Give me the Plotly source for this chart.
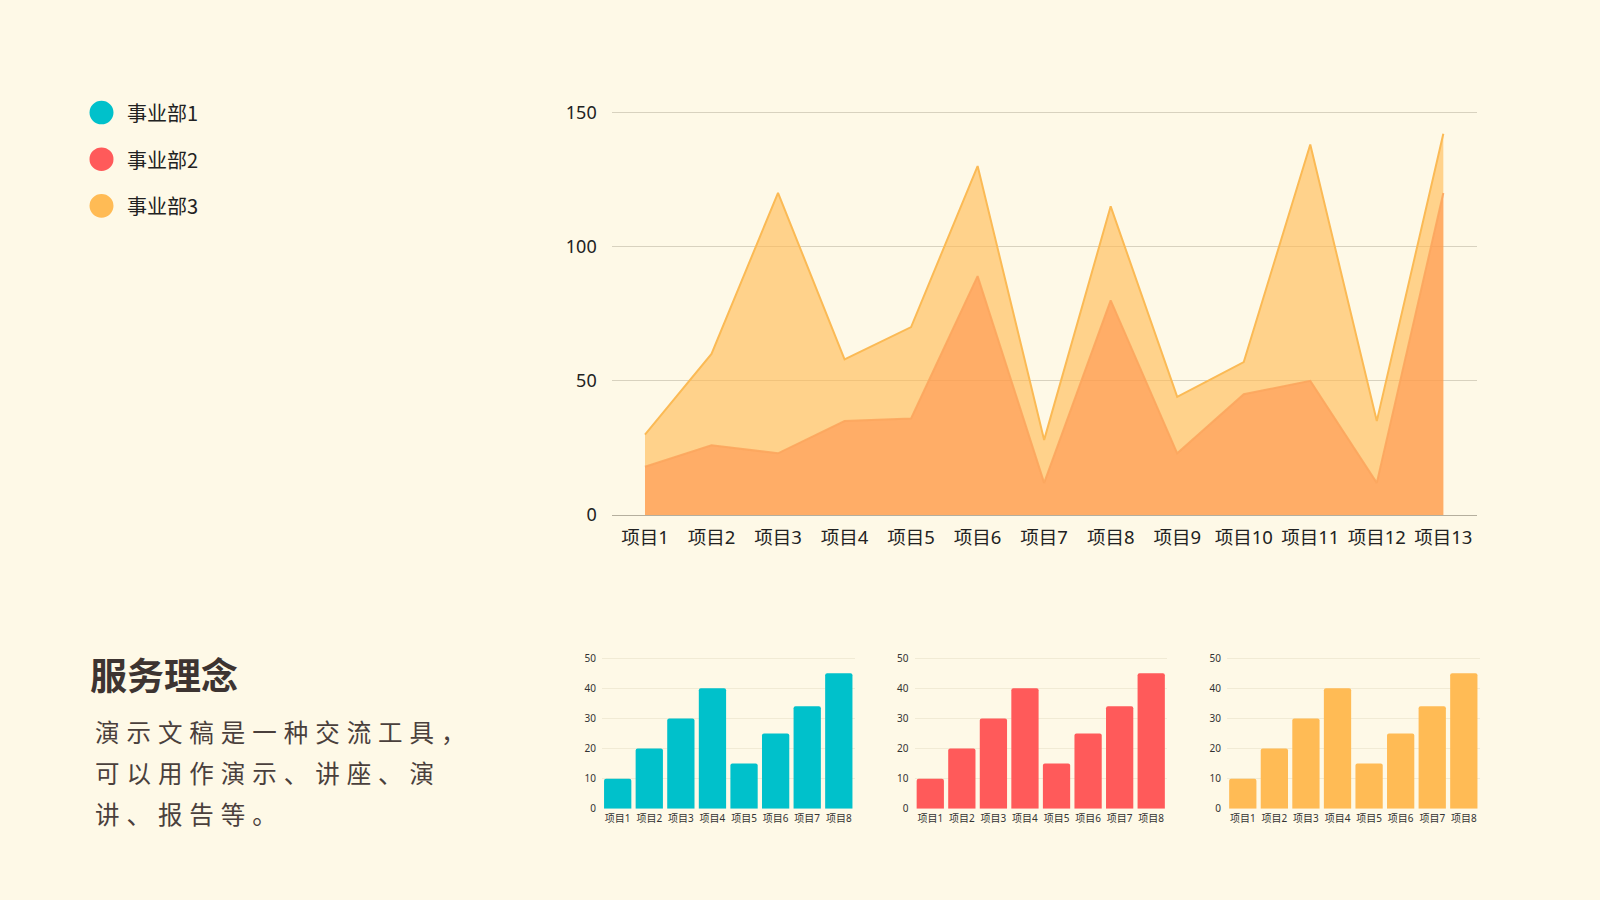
import plotly.graph_objects as go

# ---------------- data ----------------
main_categories = ["项目1", "项目2", "项目3", "项目4", "项目5", "项目6", "项目7",
                   "项目8", "项目9", "项目10", "项目11", "项目12", "项目13"]
dept3_values = [30, 60, 120, 58, 70, 130, 28, 115, 44, 57, 138, 35, 142]
dept2_values = [18, 26, 23, 35, 36, 89, 12, 80, 23, 45, 50, 12, 120]

bar_categories = ["项目1", "项目2", "项目3", "项目4", "项目5", "项目6", "项目7", "项目8"]
bar_values = [10, 20, 30, 40, 15, 25, 34, 45]

legend_names = ["事业部1", "事业部2", "事业部3"]
legend_colors = ["#00C1CB", "#FF5A5A", "#FFBB55"]

title_text = "服务理念"
body_lines = ["演示文稿是一种交流工具，", "可以用作演示、讲座、演", "讲、报告等。"]

main_ticks = [0, 50, 100, 150]
small_ticks = [0, 10, 20, 30, 40, 50]

# ---------------- figure ----------------
BG = "#FEF9E7"
W, H = 1600, 900
FONT = "Noto Sans, Noto Sans CJK SC, sans-serif"
CJK = "Noto Sans CJK SC, sans-serif"

fig = go.Figure()

# main area chart
fig.add_trace(go.Scatter(
    x=main_categories, y=dept3_values, name="事业部3", mode="lines",
    line=dict(color="#FBBA55", width=2), fill="tozeroy",
    fillcolor="rgba(255,187,85,0.63)", xaxis="x", yaxis="y", showlegend=False))
fig.add_trace(go.Scatter(
    x=main_categories, y=dept2_values, name="事业部2", mode="lines",
    line=dict(color="rgba(252,166,94,0.9)", width=2), fill="tozeroy",
    fillcolor="rgba(255,140,70,0.52)", xaxis="x", yaxis="y", showlegend=False))

# three small bar charts
small_colors = ["#00C1CB", "#FF5A5A", "#FFBB55"]
for i, c in enumerate(small_colors):
    fig.add_trace(go.Bar(
        x=bar_categories, y=bar_values, marker=dict(color=c, cornerradius=2, line=dict(width=0)),
        xaxis=f"x{i+2}", yaxis=f"y{i+2}", showlegend=False, name=legend_names[i]))

def px_x(p):
    return p / W

def px_y(p):
    return 1 - p / H

# main plot geometry (pixels): y=0 at 519.3, 150 at 109.3 -> extend range a little above 150
main_bottom, main_top150 = 519.3, 109.3
main_ppu = (main_bottom - main_top150) / 150
main_ymax = 153
main_top = main_bottom - main_ymax * main_ppu

small_bottom, small_top50 = 818.3, 665.0
small_ppu = (small_bottom - small_top50) / 50
small_ymax = 51.5
small_top = small_bottom - small_ymax * small_ppu

layout = dict(
    width=W, height=H, paper_bgcolor=BG, plot_bgcolor=BG,
    margin=dict(l=0, r=0, t=0, b=0),
    font=dict(family=FONT, color="#222222"),
    bargap=0.136,
    xaxis=dict(domain=[px_x(611.7), px_x(1476.6)], anchor="y", type="category",
               range=[-0.5, len(main_categories) - 0.5],
               showgrid=False, showline=True, linecolor="#B5AF9E", linewidth=1,
               ticks="", tickfont=dict(size=18.5, family=FONT, color="#222"),
               ticklabelstandoff=6, fixedrange=True),
    yaxis=dict(domain=[px_y(main_bottom), px_y(main_top)], anchor="x", range=[0, main_ymax],
               tickvals=main_ticks, showgrid=True, gridcolor="#D8D2BF", gridwidth=1,
               zeroline=False, showline=False, ticks="",
               tickfont=dict(size=18, family=FONT, color="#222"),
               ticklabelstandoff=14, fixedrange=True),
)

small_x_domains = [(601.9, 854.6), (914.5, 1167.0), (1227.0, 1479.6)]
for i, (a, b) in enumerate(small_x_domains):
    n = i + 2
    layout[f"xaxis{n}"] = dict(domain=[px_x(a), px_x(b)], anchor=f"y{n}", type="category",
                               range=[-0.5, len(bar_categories) - 0.5],
                               showgrid=False, showline=False, ticks="",
                               tickfont=dict(size=10, family=FONT, color="#333"),
                               ticklabelstandoff=2, fixedrange=True)
    layout[f"yaxis{n}"] = dict(domain=[px_y(small_bottom), px_y(small_top)], anchor=f"x{n}",
                               range=[0, small_ymax],
                               tickvals=small_ticks, showgrid=True, gridcolor="#F1EBD5",
                               gridwidth=1, zeroline=False, showline=False, ticks="",
                               tickfont=dict(size=10, family=FONT, color="#333"),
                               ticklabelstandoff=5, fixedrange=True)

fig.update_layout(**layout)

# custom legend (circles + labels)
shapes = []
annotations = []
legend_y = [109.5, 157, 204.5]
for name, color, cy in zip(legend_names, legend_colors, legend_y):
    shapes.append(dict(type="circle", xref="paper", yref="paper",
                       x0=px_x(101.5 - 12), x1=px_x(101.5 + 12),
                       y0=px_y(cy + 12), y1=px_y(cy - 12),
                       fillcolor=color, line=dict(width=0)))
    annotations.append(dict(text=name, xref="paper", yref="paper",
                            x=px_x(125), y=px_y(cy), xanchor="left", yanchor="middle",
                            showarrow=False, font=dict(size=20, family=CJK, color="#222")))

# title and body text
annotations.append(dict(text=f"<b>{title_text}</b>", xref="paper", yref="paper",
                        x=px_x(88), y=px_y(681), xanchor="left", yanchor="middle",
                        showarrow=False, font=dict(size=37, family=CJK, color="#3D3431")))
body_y = [736.5, 778.5, 820]
gap = '<span style="font-size:31px"> </span>'
for line, cy in zip(body_lines, body_y):
    spaced = gap.join(list(line))
    annotations.append(dict(text=spaced, xref="paper", yref="paper",
                            x=px_x(93), y=px_y(cy), xanchor="left", yanchor="middle",
                            showarrow=False, font=dict(size=24.5, family=CJK, color="#4A403C")))

fig.update_layout(shapes=shapes, annotations=annotations)

page_css = ("margin:0;padding:0;overflow:hidden;width:1600px;height:900px;background:" + BG + ";")
post_js = (
    "document.documentElement.style.cssText='" + page_css + "';"
    "document.body.style.cssText='" + page_css + "';"
    "var gd=document.getElementById('{plot_id}');"
    "gd.style.position='absolute';gd.style.left='0px';gd.style.top='0px';"
)

fig.write_html("out.html", config={"displayModeBar": False}, post_script=post_js)
